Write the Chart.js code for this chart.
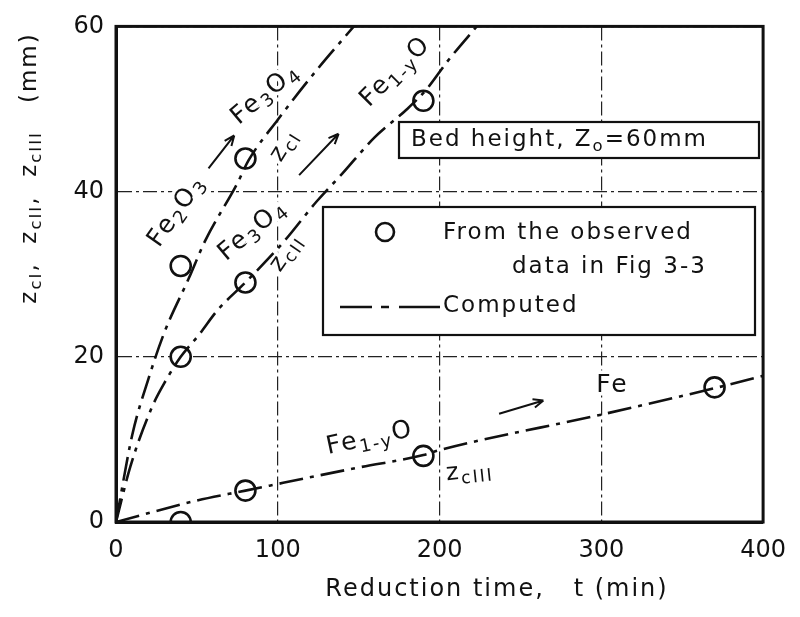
<!DOCTYPE html>
<html>
<head>
<meta charset="utf-8">
<script src="https://cdn.jsdelivr.net/npm/chart.js@4/dist/chart.umd.min.js"></script>
<style>
  html, body { margin: 0; padding: 0; background: #fff; }
  #wrap { width: 800px; height: 617px; }
</style>
</head>
<body>
<div id="wrap"><canvas id="chart" width="800" height="617"></canvas></div>
<script>
// observed points (circles), t in min, z in mm
const obsI_t = [40, 80];
const obsI_z = [31, 44];
const obsII_t = [40, 80, 190];
const obsII_z = [20, 29, 51];
const obsIII_t = [40, 80, 190, 370];
const obsIII_z = [0, 3.8, 8, 16.3];

// computed fronts (dash-dot lines)
const calcI_t = [0, 10, 20, 30, 45, 55, 75, 82, 100, 124, 147];
const calcI_z = [0, 10.5, 17.3, 23, 29.5, 34, 41, 43.8, 48.7, 54.7, 60];
const calcII_t = [0, 9, 22, 31, 40, 51, 63, 80, 104, 124, 140, 160, 180, 192, 205, 223];
const calcII_z = [0, 6.8, 13.8, 17.2, 20, 22.6, 25.7, 29, 34, 38.8, 42.2, 46.6, 50, 52.4, 55.8, 60];
const calcIII_t = [0, 50, 80, 150, 190, 200, 300, 370, 400];
const calcIII_z = [0, 2.6, 3.8, 6.6, 8.1, 8.7, 13, 16.2, 17.7];

const xTicks = [0, 100, 200, 300, 400];
const yTicks = [0, 20, 40, 60];

const FONT = '"DejaVu Sans", sans-serif';
const pts = (t, z) => t.map((v, i) => ({ x: v, y: z[i] }));

const calcStyle = {
  type: 'line', showLine: true, borderColor: '#111', borderWidth: 2.6,
  borderDash: [24, 7, 4, 7], pointRadius: 0, fill: false,
  cubicInterpolationMode: 'monotone'
};
const obsStyle = {
  type: 'scatter', showLine: false, pointRadius: 10, pointBorderWidth: 2.6,
  pointBackgroundColor: '#fff', pointBorderColor: '#111'
};

// rich text: parts = [[text, isSub], ...]
function richDraw(ctx, parts, x, y, angle, size, align) {
  ctx.save();
  ctx.translate(x, y);
  ctx.rotate(angle * Math.PI / 180);
  ctx.letterSpacing = '2px';
  let w = 0;
  parts.forEach(p => {
    ctx.font = (p[1] ? size * 0.72 : size) + 'px ' + FONT;
    w += ctx.measureText(p[0]).width;
  });
  let cx = align === 'left' ? 0 : -w / 2;
  ctx.textBaseline = 'middle';
  ctx.textAlign = 'left';
  parts.forEach(p => {
    ctx.font = (p[1] ? size * 0.72 : size) + 'px ' + FONT;
    const dy = p[1] ? size * 0.28 : 0;
    ctx.lineWidth = 7;
    ctx.strokeStyle = '#fff';
    ctx.strokeText(p[0], cx, dy);
    ctx.fillStyle = '#111';
    ctx.fillText(p[0], cx, dy);
    cx += ctx.measureText(p[0]).width;
  });
  ctx.restore();
}

function arrow(ctx, x1, y1, x2, y2) {
  const a = Math.atan2(y2 - y1, x2 - x1);
  ctx.save();
  ctx.strokeStyle = '#111';
  ctx.lineWidth = 2;
  ctx.setLineDash([]);
  ctx.beginPath();
  ctx.moveTo(x1, y1); ctx.lineTo(x2, y2);
  ctx.moveTo(x2, y2); ctx.lineTo(x2 - 11 * Math.cos(a - 0.4), y2 - 11 * Math.sin(a - 0.4));
  ctx.moveTo(x2, y2); ctx.lineTo(x2 - 11 * Math.cos(a + 0.4), y2 - 11 * Math.sin(a + 0.4));
  ctx.stroke();
  ctx.restore();
}

// labels placed in data coordinates
const labels = [
  { p: [['Fe', 0], ['2', 1], ['O', 0], ['3', 1]], t: 37.7, z: 37.6, a: -55, s: 25 },
  { p: [['Fe', 0], ['3', 1], ['O', 0], ['4', 1]], t: 92.5, z: 51.8, a: -40, s: 25 },
  { p: [['z', 0], ['cI', 1]], t: 104, z: 45.6, a: -58, s: 24 },
  { p: [['Fe', 0], ['1-y', 1], ['O', 0]], t: 172.9, z: 54.5, a: -45, s: 25 },
  { p: [['Fe', 0], ['3', 1], ['O', 0], ['4', 1]], t: 84.6, z: 35.3, a: -40, s: 25 },
  { p: [['z', 0], ['cII', 1]], t: 105.3, z: 32.6, a: -55, s: 24 },
  { p: [['Fe', 0], ['1-y', 1], ['O', 0]], t: 157, z: 10.1, a: -12, s: 25 },
  { p: [['z', 0], ['cIII', 1]], t: 218.6, z: 6.1, a: -6, s: 24 },
  { p: [['Fe', 0]], t: 306.8, z: 16.5, a: 0, s: 25 }
];
const arrows = [
  [57.2, 42.8, 73.1, 46.8],
  [113.2, 42, 137.6, 47],
  [236.8, 13.1, 264.2, 14.7]
];

const decor = {
  id: 'decor',
  beforeDatasetsDraw(chart) {
    const ctx = chart.ctx, xs = chart.scales.x, ys = chart.scales.y;
    ctx.save();
    // boxes
    ctx.fillStyle = '#fff';
    ctx.strokeStyle = '#111';
    ctx.lineWidth = 2.2;
    ctx.fillRect(399, 122, 360, 36); ctx.strokeRect(399, 122, 360, 36);
    ctx.fillRect(323, 207, 432, 128); ctx.strokeRect(323, 207, 432, 128);
    richDraw(ctx, [['Bed height, Z', 0], ['o', 1], ['=60mm', 0]], 411, 140, 0, 23, 'left');
    // legend
    ctx.lineWidth = 2.6;
    ctx.beginPath(); ctx.arc(385, 232, 9, 0, Math.PI * 2); ctx.stroke();
    richDraw(ctx, [['From the observed', 0]], 443, 233, 0, 23, 'left');
    richDraw(ctx, [['data in Fig 3-3', 0]], 512, 267, 0, 23, 'left');
    ctx.beginPath();
    ctx.moveTo(340, 307); ctx.lineTo(372, 307);
    ctx.moveTo(381, 307); ctx.lineTo(389, 307);
    ctx.moveTo(399, 307); ctx.lineTo(440, 307);
    ctx.stroke();
    richDraw(ctx, [['Computed', 0]], 443, 306, 0, 23, 'left');
    labels.forEach(l => richDraw(ctx, l.p, xs.getPixelForValue(l.t), ys.getPixelForValue(l.z), l.a, l.s));
    arrows.forEach(a => arrow(ctx, xs.getPixelForValue(a[0]), ys.getPixelForValue(a[1]),
      xs.getPixelForValue(a[2]), ys.getPixelForValue(a[3])));
    ctx.restore();
  },
  afterDraw(chart) {
    const ctx = chart.ctx, ca = chart.chartArea;
    ctx.save();
    ctx.strokeStyle = '#111';
    ctx.lineWidth = 3;
    ctx.strokeRect(ca.left, ca.top, ca.right - ca.left, ca.bottom - ca.top);
    // axis titles
    richDraw(ctx, [['Reduction time,   t (min)', 0]], 497, 590, 0, 24);
    const parts = [['z', 0], ['cI', 1], [',  ', 0], ['z', 0], ['cII', 1], [',  ', 0], ['z', 0], ['cIII', 1], ['   (mm)', 0]];
    richDraw(ctx, parts, 30, 168, -90, 23);
    ctx.restore();
  }
};

const gridOpts = { color: '#222', lineWidth: 1.2, drawTicks: false };

new Chart(document.getElementById('chart'), {
  data: {
    datasets: [
      { ...calcStyle, data: pts(calcI_t, calcI_z) },
      { ...calcStyle, data: pts(calcII_t, calcII_z) },
      { ...calcStyle, data: pts(calcIII_t, calcIII_z) },
      { ...obsStyle, data: pts(obsI_t, obsI_z) },
      { ...obsStyle, data: pts(obsII_t, obsII_z) },
      { ...obsStyle, data: pts(obsIII_t, obsIII_z) }
    ]
  },
  options: {
    responsive: false,
    animation: false,
    devicePixelRatio: 1,
    layout: { padding: { top: 19, right: 27, left: 0, bottom: 0 } },
    plugins: { legend: { display: false }, tooltip: { enabled: false } },
    scales: {
      x: {
        type: 'linear', min: 0, max: 400,
        afterBuildTicks: s => { s.ticks = xTicks.map(v => ({ value: v })); },
        afterFit: s => { s.height = 95; },
        ticks: { font: { family: FONT, size: 24 }, color: '#111', padding: 14 },
        grid: gridOpts,
        border: { color: '#111', width: 3, dash: [14, 4, 3, 4] }
      },
      y: {
        type: 'linear', min: 0, max: 60,
        afterBuildTicks: s => { s.ticks = yTicks.map(v => ({ value: v })); },
        afterFit: s => { s.width = 116; },
        ticks: { font: { family: FONT, size: 24 }, color: '#111', padding: 12 },
        grid: gridOpts,
        border: { color: '#111', width: 3, dash: [14, 4, 3, 4] }
      }
    }
  },
  plugins: [decor]
});
</script>
</body>
</html>
